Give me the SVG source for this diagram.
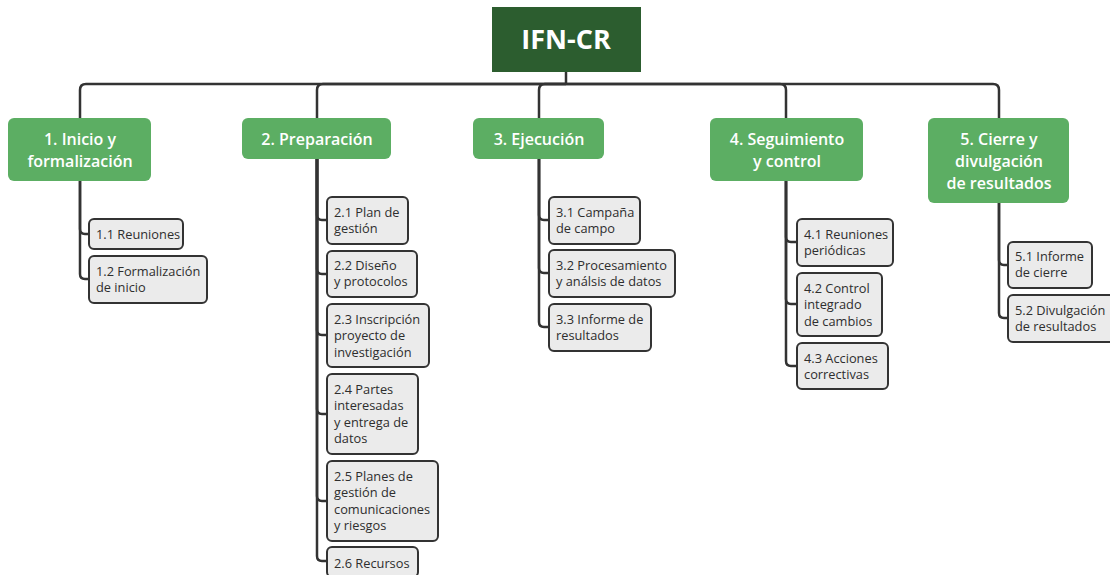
<svg xmlns="http://www.w3.org/2000/svg" width="1110" height="575" viewBox="0 0 1110 575">
<style>
.bg{fill:#ffffff}
.root rect{fill:#2c5d2f}
.root text{font-family:"Open Sans","Noto Sans",sans-serif;font-weight:700;font-size:27px;fill:#ffffff;text-anchor:middle}
.l1 rect{fill:#5cae63}
.l1 text{font-family:"Open Sans","Noto Sans",sans-serif;font-weight:600;font-size:16px;fill:#ffffff;text-anchor:middle}
.l2 rect{fill:#ebebeb;stroke:#333333;stroke-width:2}
.l2 text{font-family:"Open Sans","Noto Sans",sans-serif;font-size:12.8px;fill:#2e2e2e}
.conn path{fill:none;stroke:#333333;stroke-width:2.5}
</style>
<rect class="bg" x="0" y="0" width="1110" height="575"/>
<g class="conn" id="connectors">
<path d="M566,72 V84"/>
<path d="M566,84 H86 Q80,84 80,90 V118"/>
<path d="M566,84 H323 Q317,84 317,90 V118"/>
<path d="M566,84 H545 Q539,84 539,90 V118"/>
<path d="M566,84 H780 Q786,84 786,90 V118"/>
<path d="M566,84 H993 Q999,84 999,90 V118"/>
<path d="M80,181 V229 Q80,234 85,234 H89"/>
<path d="M80,181 V274 Q80,279 85,279 H89"/>
<path d="M317,159 V215 Q317,220 322,220 H327"/>
<path d="M317,159 V269 Q317,274 322,274 H327"/>
<path d="M317,159 V330 Q317,335 322,335 H327"/>
<path d="M317,159 V409 Q317,414 322,414 H327"/>
<path d="M317,159 V496 Q317,501 322,501 H327"/>
<path d="M317,159 V556 Q317,561 322,561 H327"/>
<path d="M539,159 V215 Q539,220 544,220 H549"/>
<path d="M539,159 V268 Q539,273 544,273 H549"/>
<path d="M539,159 V322 Q539,327 544,327 H549"/>
<path d="M786,181 V237 Q786,242 791,242 H797"/>
<path d="M786,181 V299 Q786,304 791,304 H797"/>
<path d="M786,181 V361 Q786,366 791,366 H797"/>
<path d="M999,203 V260 Q999,265 1004,265 H1008"/>
<path d="M999,203 V313 Q999,318 1004,318 H1008"/>
</g>
<g class="root" id="n0">
<rect x="492" y="7" width="149" height="65"/>
<text x="566" y="49">IFN-CR</text>
</g>
<g class="l1" id="n1">
<rect x="8" y="118" width="143" height="63" rx="6"/>
<text x="80" y="145">1. Inicio y<tspan x="80" dy="22">formalización</tspan></text>
</g>
<g class="l1" id="n2">
<rect x="242" y="118" width="149" height="41" rx="6"/>
<text x="317" y="145">2. Preparación</text>
</g>
<g class="l1" id="n3">
<rect x="473" y="118" width="131" height="41" rx="6"/>
<text x="539" y="145">3. Ejecución</text>
</g>
<g class="l1" id="n4">
<rect x="710" y="118" width="153" height="63" rx="6"/>
<text x="787" y="145">4. Seguimiento<tspan x="787" dy="22">y control</tspan></text>
</g>
<g class="l1" id="n5">
<rect x="928" y="118" width="141" height="85" rx="6"/>
<text x="999" y="145">5. Cierre y<tspan x="999" dy="22">divulgación</tspan><tspan x="999" dy="22">de resultados</tspan></text>
</g>
<g class="l2" id="n1-1">
<rect x="89" y="219" width="94" height="30" rx="5"/>
<text x="96" y="238.5">1.1 Reuniones</text>
</g>
<g class="l2" id="n1-2">
<rect x="89" y="256" width="118" height="47" rx="5"/>
<text x="96" y="275.5">1.2 Formalización<tspan x="96" dy="16.5">de inicio</tspan></text>
</g>
<g class="l2" id="n2-1">
<rect x="327" y="197" width="81" height="47" rx="5"/>
<text x="334" y="216.5">2.1 Plan de<tspan x="334" dy="16.5">gestión</tspan></text>
</g>
<g class="l2" id="n2-2">
<rect x="327" y="251" width="90" height="46" rx="5"/>
<text x="334" y="269.5">2.2 Diseño<tspan x="334" dy="16.5">y protocolos</tspan></text>
</g>
<g class="l2" id="n2-3">
<rect x="327" y="304" width="102" height="63" rx="5"/>
<text x="334" y="323.5">2.3 Inscripción<tspan x="334" dy="16.5">proyecto de</tspan><tspan x="334" dy="16.5">investigación</tspan></text>
</g>
<g class="l2" id="n2-4">
<rect x="327" y="374" width="91" height="80" rx="5"/>
<text x="334" y="393.5">2.4 Partes<tspan x="334" dy="16.5">interesadas</tspan><tspan x="334" dy="16.5">y entrega de</tspan><tspan x="334" dy="16.5">datos</tspan></text>
</g>
<g class="l2" id="n2-5">
<rect x="327" y="461" width="111" height="80" rx="5"/>
<text x="334" y="480.5">2.5 Planes de<tspan x="334" dy="16.5">gestión de</tspan><tspan x="334" dy="16.5">comunicaciones</tspan><tspan x="334" dy="16.5">y riesgos</tspan></text>
</g>
<g class="l2" id="n2-6">
<rect x="327" y="547" width="91" height="30" rx="5"/>
<text x="334" y="567.5">2.6 Recursos</text>
</g>
<g class="l2" id="n3-1">
<rect x="549" y="197" width="91" height="47" rx="5"/>
<text x="556" y="216.5">3.1 Campaña<tspan x="556" dy="16.5">de campo</tspan></text>
</g>
<g class="l2" id="n3-2">
<rect x="549" y="250" width="126" height="47" rx="5"/>
<text x="556" y="269.5">3.2 Procesamiento<tspan x="556" dy="16.5">y análsis de datos</tspan></text>
</g>
<g class="l2" id="n3-3">
<rect x="549" y="304" width="102" height="47" rx="5"/>
<text x="556" y="323.5">3.3 Informe de<tspan x="556" dy="16.5">resultados</tspan></text>
</g>
<g class="l2" id="n4-1">
<rect x="797" y="219" width="96" height="47" rx="5"/>
<text x="804" y="238.5">4.1 Reuniones<tspan x="804" dy="16.5">periódicas</tspan></text>
</g>
<g class="l2" id="n4-2">
<rect x="797" y="273" width="85" height="63" rx="5"/>
<text x="804" y="292.5">4.2 Control<tspan x="804" dy="16.5">integrado</tspan><tspan x="804" dy="16.5">de cambios</tspan></text>
</g>
<g class="l2" id="n4-3">
<rect x="797" y="343" width="91" height="46" rx="5"/>
<text x="804" y="362.5">4.3 Acciones<tspan x="804" dy="16.5">correctivas</tspan></text>
</g>
<g class="l2" id="n5-1">
<rect x="1008" y="242" width="84" height="46" rx="5"/>
<text x="1015" y="260.5">5.1 Informe<tspan x="1015" dy="16.5">de cierre</tspan></text>
</g>
<g class="l2" id="n5-2">
<rect x="1008" y="295" width="106" height="47" rx="5"/>
<text x="1015" y="314.5">5.2 Divulgación<tspan x="1015" dy="16.5">de resultados</tspan></text>
</g>
</svg>
